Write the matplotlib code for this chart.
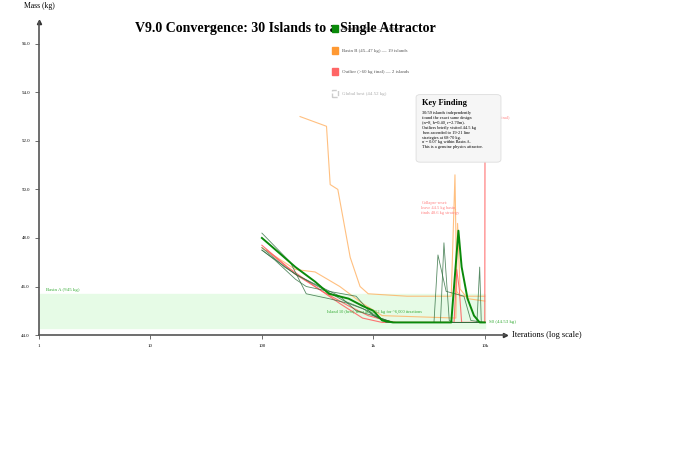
import numpy as np
import matplotlib.pyplot as plt
from matplotlib.patches import Patch, FancyBboxPatch

plt.rcParams['font.family'] = ['Liberation Serif', 'DejaVu Serif']

# island trajectories (iteration, mass kg)
green_main_it = [100, 150, 200, 300, 400, 600, 800, 1000, 1200, 1500, 3000, 5000, 5800, 6200, 7000, 8000, 9000, 10000]
green_main_m = [48.0, 47.3, 46.8, 46.2, 45.7, 45.5, 45.2, 45.0, 44.6, 44.52, 44.52, 44.52, 48.3, 46.8, 45.5, 44.8, 44.52, 44.52]

green_thin = [
    ([100, 130, 200, 250, 400, 700, 1000, 1500, 10000], [47.5, 47.1, 46.3, 46.0, 45.8, 45.6, 44.8, 44.52, 44.52]),
    ([100, 180, 250, 400, 600, 900, 1300, 4000, 4300, 4800, 5200, 10000], [48.2, 47.0, 45.7, 45.5, 45.3, 45.0, 44.52, 44.52, 47.8, 44.6, 44.52, 44.52]),
    ([100, 160, 220, 350, 550, 800, 1100, 1500, 3500, 3800, 4500, 6500, 7500, 10000], [47.6, 46.8, 46.4, 45.9, 45.4, 45.1, 44.7, 44.52, 44.52, 47.3, 45.8, 45.6, 44.6, 44.52]),
    ([100, 200, 300, 500, 700, 1000, 1500, 8500, 9000, 9300, 10000], [47.5, 46.5, 46.1, 45.6, 45.0, 44.8, 44.52, 44.52, 46.8, 44.52, 44.52]),
]
red_thin = [
    ([100, 170, 300, 500, 800, 1200, 1500, 10000], [47.7, 46.8, 46.0, 45.3, 44.7, 44.52, 44.52, 44.52]),
    ([110, 200, 350, 600, 900, 1300, 1600, 5300, 5600, 5900, 6200, 10000], [47.5, 46.5, 45.8, 45.2, 44.8, 44.6, 44.52, 44.52, 46.7, 45.9, 44.52, 44.52]),
    ([9900, 10000, 10050], [44.52, 44.52, 52.8]),
]
orange_thin = [
    ([220, 380, 410, 480, 620, 760, 900, 2000, 5000, 5400, 5600, 6000, 8000, 10000], [53.0, 52.6, 50.2, 50.0, 47.2, 46.0, 45.7, 45.6, 45.6, 50.6, 45.8, 45.6, 45.6, 45.6]),
    ([100, 200, 300, 500, 800, 1200, 5500, 5700, 6000, 7000, 10000], [47.6, 46.7, 46.6, 46.0, 45.3, 44.8, 44.7, 48.6, 45.9, 45.5, 45.4]),
]

fig = plt.figure(figsize=(6.9, 4.66), dpi=100)
ax = fig.add_axes([0.0565, 0.281, 0.675, 0.672])
ax.set_xscale('log')
ax.set_xlim(1, 15100)
ax.set_ylim(44.0, 56.9)

ax.axhspan(44.3, 45.7, xmin=0, xmax=np.log10(10000) / np.log10(15100), color='#e6fbe6', zorder=0)

for it, m in orange_thin:
    ax.plot(it, m, color='#ffb060', lw=0.8, alpha=0.8)
for it, m in red_thin:
    ax.plot(it, m, color='#ff6666', lw=0.8, alpha=0.9)
for it, m in green_thin:
    ax.plot(it, m, color='#2e6e3e', lw=0.6, alpha=0.8)
ax.plot(green_main_it, green_main_m, color='#0a8a0a', lw=1.4)

for s in ['top', 'right']:
    ax.spines[s].set_visible(False)
for s in ['left', 'bottom']:
    ax.spines[s].set_color('#555555')
    ax.spines[s].set_linewidth(1.2)
ax.plot(0, 1, '^', color='#333333', ms=3, transform=ax.transAxes, clip_on=False)
ax.plot(1, 0, '>', color='#333333', ms=3, transform=ax.transAxes, clip_on=False)

ax.set_xticks([1, 10, 100, 1000, 10000])
ax.set_xticklabels(['1', '10', '100', '1k', '10k'])
ax.minorticks_off()
ax.set_yticks([44, 46, 48, 50, 52, 54, 56])
ax.set_yticklabels(['44.0', '46.0', '48.0', '50.0', '52.0', '54.0', '56.0'])
ax.tick_params(labelsize=3.5, length=3, width=0.6, color='#555555')
ax.text(1.015, 0.0, 'Iterations (log scale)', fontsize=6, transform=ax.transAxes, va='center')
ax.text(0.0, 1.045, 'Mass (kg)', fontsize=5.5, transform=ax.transAxes, ha='center')

ax.text(1.15, 45.8, 'Basin A (≈45 kg)', color='#33aa33', fontsize=3.5)
ax.text(380, 44.9, 'Island 10 (best) floor at 44.52 kg for ~6,000 iterations', color='#33aa33', fontsize=3.2)
ax.text(11000, 44.52, 'S0 (44.53 kg)', color='#33aa33', fontsize=3.5, va='center')
ax.text(2700, 49.0, 'Collapse-reset:\nleave 44.5 kg basin,\nfinds 48.6 kg strategy', color='#ff8080', fontsize=3.2)
ax.text(10500, 52.9, '(+6 kg final)', color='#ff8080', fontsize=3.2)

fig.text(0.195, 0.932, 'V9.0 Convergence: 30 Islands to a Single Attractor', fontsize=10, fontweight='bold')

handles = [Patch(color='#0a8a0a', label='Basin A (~45 kg) — 30 islands'),
           Patch(color='#ff9933', label='Basin B (45–47 kg) — 19 islands'),
           Patch(color='#ff6666', label='Outlier (>60 kg final) — 2 islands'),
           Patch(facecolor='white', edgecolor='#cccccc', ls='--', label='Global best (44.52 kg)')]
leg = fig.legend(handles=handles, loc='upper left', bbox_to_anchor=(0.475, 0.955), frameon=False,
                 fontsize=3.5, labelspacing=3.0, handlelength=1.3, handleheight=1.8)
for t, c in zip(leg.get_texts(), ['#333333', '#555555', '#555555', '#aaaaaa']):
    t.set_color(c)

box = FancyBboxPatch((0.603, 0.652), 0.123, 0.145, boxstyle='round,pad=0,rounding_size=0.006',
                     transform=fig.transFigure, fc='#f6f6f6', ec='#dddddd', lw=0.6, zorder=5)
fig.patches.append(box)
fig.text(0.612, 0.775, 'Key Finding', fontsize=6, fontweight='bold', zorder=6)
fig.text(0.612, 0.762, '30/59 islands independently\nfound the exact same design\n(n=8, h=0.40, r=2.70m).\n'
         'Outliers briefly visited 44.5 kg\nthen ascended to 19-21 line\nstrategies at 68-70 kg.\n'
         'σ = 0.07 kg within Basin A.\nThis is a genuine physics attractor.',
         fontsize=3.2, va='top', linespacing=1.3, zorder=6)

fig.savefig('out.png', dpi=100)
